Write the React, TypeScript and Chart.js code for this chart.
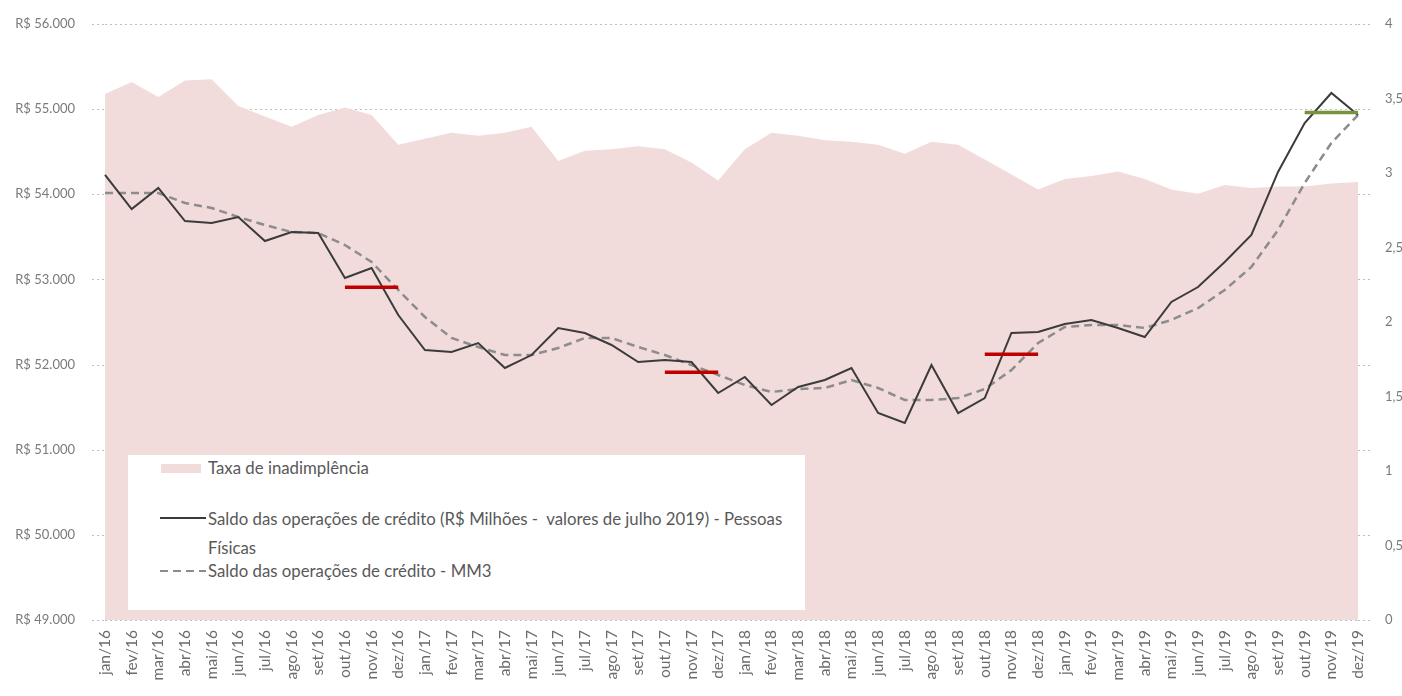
import React, { useEffect, useRef } from "react";
import { Chart, registerables } from "chart.js";

Chart.register(...registerables);

const months = [
  "jan/16","fev/16","mar/16","abr/16","mai/16","jun/16","jul/16","ago/16","set/16","out/16","nov/16","dez/16",
  "jan/17","fev/17","mar/17","abr/17","mai/17","jun/17","jul/17","ago/17","set/17","out/17","nov/17","dez/17",
  "jan/18","fev/18","mar/18","abr/18","mai/18","jun/18","jul/18","ago/18","set/18","out/18","nov/18","dez/18",
  "jan/19","fev/19","mar/19","abr/19","mai/19","jun/19","jul/19","ago/19","set/19","out/19","nov/19","dez/19",
];

const taxaInadimplencia = [
  3.53, 3.61, 3.51, 3.62, 3.63, 3.45, 3.38, 3.31, 3.39, 3.44, 3.39, 3.19,
  3.23, 3.27, 3.25, 3.27, 3.31, 3.08, 3.15, 3.16, 3.18, 3.16, 3.07, 2.95,
  3.16, 3.27, 3.25, 3.22, 3.21, 3.19, 3.13, 3.21, 3.19, 3.09, 2.99, 2.89,
  2.96, 2.98, 3.01, 2.96, 2.89, 2.86, 2.92, 2.9, 2.91, 2.91, 2.93, 2.94,
];

const saldoCredito = [
  54227, 53827, 54074, 53686, 53663, 53733, 53451, 53557, 53545, 53017, 53134, 52582,
  52171, 52148, 52253, 51960, 52112, 52430, 52371, 52230, 52030, 52054, 52030, 51666,
  51854, 51525, 51737, 51819, 51960, 51431, 51314, 51995, 51431, 51607, 52371, 52383,
  52477, 52524, 52430, 52324, 52735, 52911, 53205, 53522, 54262, 54837, 55190, 54931,
];

const saldoMM3 = [
  54015, 54015, 54015, 53898, 53839, 53733, 53639, 53557, 53545, 53404, 53205, 52876,
  52559, 52312, 52206, 52112, 52112, 52195, 52312, 52312, 52206, 52112, 51995, 51878,
  51760, 51678, 51713, 51725, 51819, 51725, 51584, 51584, 51607, 51713, 51936, 52253,
  52441, 52465, 52465, 52430, 52524, 52664, 52876, 53146, 53581, 54133, 54602, 54931,
];

// Quarterly markers (start month, end month, value)
const marcadoresVermelhos = [
  { start: "out/16", end: "dez/16", value: 52908 },
  { start: "out/17", end: "dez/17", value: 51911 },
  { start: "out/18", end: "dez/18", value: 52122 },
];
const marcadorVerde = { start: "out/19", end: "dez/19", value: 54962 };

const leftTicks = { min: 49000, max: 56000, step: 1000 };
const rightTicks = { min: 0, max: 4, step: 0.5 };

const legendLabels = {
  taxa: "Taxa de inadimplência",
  saldoL1: "Saldo das operações de crédito (R$ Milhões -\u00a0 valores de julho 2019) - Pessoas",
  saldoL2: "Físicas",
  mm3: "Saldo das operações de crédito - MM3",
};

const FONT = "Lato, 'Open Sans', sans-serif";

function fmtReais(v: number): string {
  const s = Math.round(v).toString().replace(/\B(?=(\d{3})+(?!\d))/g, ".");
  return "R$ " + s;
}

export default function App() {
  const canvasRef = useRef<HTMLCanvasElement | null>(null);

  useEffect(() => {
    document.body.style.margin = "0";
    const canvas = canvasRef.current;
    if (!canvas) return;

    const markerDatasets = marcadoresVermelhos.map((m) => ({
      type: "line" as const,
      label: "",
      data: [
        { x: m.start, y: m.value },
        { x: m.end, y: m.value },
      ],
      yAxisID: "y",
      borderColor: "#C00000",
      borderWidth: 3.5,
      pointRadius: 0,
      fill: false,
      order: 0,
    }));

    // Dotted tick stubs on both sides of the plot area at the left-axis ticks
    const tickStubs = {
      id: "tickStubs",
      afterDraw(chart: any) {
        const { ctx, chartArea, scales } = chart;
        const y = scales.y;
        ctx.save();
        ctx.strokeStyle = "#bfbfbf";
        ctx.lineWidth = 1;
        ctx.setLineDash([2, 3]);
        for (let v = leftTicks.min; v <= leftTicks.max; v += leftTicks.step) {
          const py = Math.round(y.getPixelForValue(v)) + 0.5;
          ctx.beginPath();
          ctx.moveTo(chartArea.left - 13, py);
          ctx.lineTo(chartArea.left, py);
          ctx.moveTo(chartArea.right, py);
          ctx.lineTo(chartArea.right + 13, py);
          ctx.stroke();
        }
        ctx.restore();
      },
    };

    const chart = new Chart(canvas, {
      type: "line",
      data: {
        labels: months,
        datasets: [
          ...markerDatasets,
          {
            type: "line",
            label: "",
            data: [
              { x: marcadorVerde.start, y: marcadorVerde.value },
              { x: marcadorVerde.end, y: marcadorVerde.value },
            ],
            yAxisID: "y",
            borderColor: "#77933C",
            borderWidth: 3.5,
            pointRadius: 0,
            fill: false,
            order: 0,
          },
          {
            label: legendLabels.saldoL1 + " " + legendLabels.saldoL2,
            data: saldoCredito,
            yAxisID: "y",
            borderColor: "#3b3b3b",
            borderWidth: 2,
            pointRadius: 0,
            tension: 0,
            fill: false,
            order: 2,
          },
          {
            label: legendLabels.mm3,
            data: saldoMM3,
            yAxisID: "y",
            borderColor: "#8c8c8c",
            borderWidth: 2.5,
            borderDash: [8, 5],
            pointRadius: 0,
            tension: 0,
            fill: false,
            order: 3,
          },
          {
            label: legendLabels.taxa,
            data: taxaInadimplencia,
            yAxisID: "y1",
            borderWidth: 0,
            borderColor: "rgba(0,0,0,0)",
            backgroundColor: "#F2DCDB",
            pointRadius: 0,
            tension: 0,
            fill: "origin",
            order: 10,
          },
        ],
      },
      options: {
        animation: false,
        responsive: true,
        maintainAspectRatio: false,
        layout: { padding: { top: 24, left: 0, right: 0, bottom: 0 } },
        plugins: {
          legend: { display: false },
          tooltip: { enabled: false },
        },
        scales: {
          x: {
            type: "category",
            offset: false,
            grid: { display: false, drawTicks: false },
            border: { display: false },
            ticks: {
              autoSkip: false,
              maxRotation: 90,
              minRotation: 90,
              padding: 10,
              color: "#6b6b6b",
              font: { family: FONT, size: 15.5 },
            },
            afterFit: (scale: any) => {
              scale.height = 76;
            },
          },
          y: {
            position: "left",
            min: leftTicks.min,
            max: leftTicks.max,
            ticks: {
              stepSize: leftTicks.step,
              padding: 3,
              color: "#7a7a7a",
              font: { family: FONT, size: 13 },
              callback: (v: any) => fmtReais(Number(v)),
            },
            grid: {
              color: "#bfbfbf",
              lineWidth: 1,
              drawTicks: true,
              tickLength: 27,
              tickColor: "rgba(0,0,0,0)",
            },
            border: { display: false, dash: [2, 3] },
            afterFit: (scale: any) => {
              scale.width = 105;
            },
          },
          y1: {
            position: "right",
            min: rightTicks.min,
            max: rightTicks.max,
            ticks: {
              stepSize: rightTicks.step,
              padding: 3,
              color: "#7a7a7a",
              font: { family: FONT, size: 13 },
              callback: (v: any) => String(Number(v)).replace(".", ","),
            },
            grid: { display: false, drawOnChartArea: false, drawTicks: true, tickLength: 24 },
            border: { display: false },
            afterFit: (scale: any) => {
              scale.width = 44;
            },
          },
        },
      },
      plugins: [tickStubs],
    } as any);

    return () => {
      chart.destroy();
    };
  }, []);

  const legendText: React.CSSProperties = {
    fontFamily: FONT,
    fontSize: 16.8,
    color: "#595959",
    position: "absolute",
    left: 80,
    whiteSpace: "nowrap",
    lineHeight: "20px",
  };

  return (
    <div style={{ position: "relative", width: 1402, height: 696, background: "#ffffff" }}>
      <canvas ref={canvasRef} />
      <div
        style={{
          position: "absolute",
          left: 128,
          top: 455,
          width: 677,
          height: 155,
          background: "#ffffff",
        }}
      >
        <div style={{ position: "absolute", left: 33, top: 9, width: 40, height: 9, background: "#F2DCDB" }} />
        <div style={{ ...legendText, top: 3 }}>{legendLabels.taxa}</div>

        <svg style={{ position: "absolute", left: 32, top: 58 }} width={46} height={10}>
          <line x1={0} y1={5} x2={46} y2={5} stroke="#3b3b3b" strokeWidth={2} />
        </svg>
        <div style={{ ...legendText, top: 49, lineHeight: "29px" }}>
          {legendLabels.saldoL1}
          <br />
          {legendLabels.saldoL2}
        </div>

        <svg style={{ position: "absolute", left: 32, top: 111 }} width={46} height={10}>
          <line x1={0} y1={5} x2={46} y2={5} stroke="#8c8c8c" strokeWidth={2} strokeDasharray="8,5" />
        </svg>
        <div style={{ ...legendText, top: 106 }}>{legendLabels.mm3}</div>
      </div>
    </div>
  );
}
